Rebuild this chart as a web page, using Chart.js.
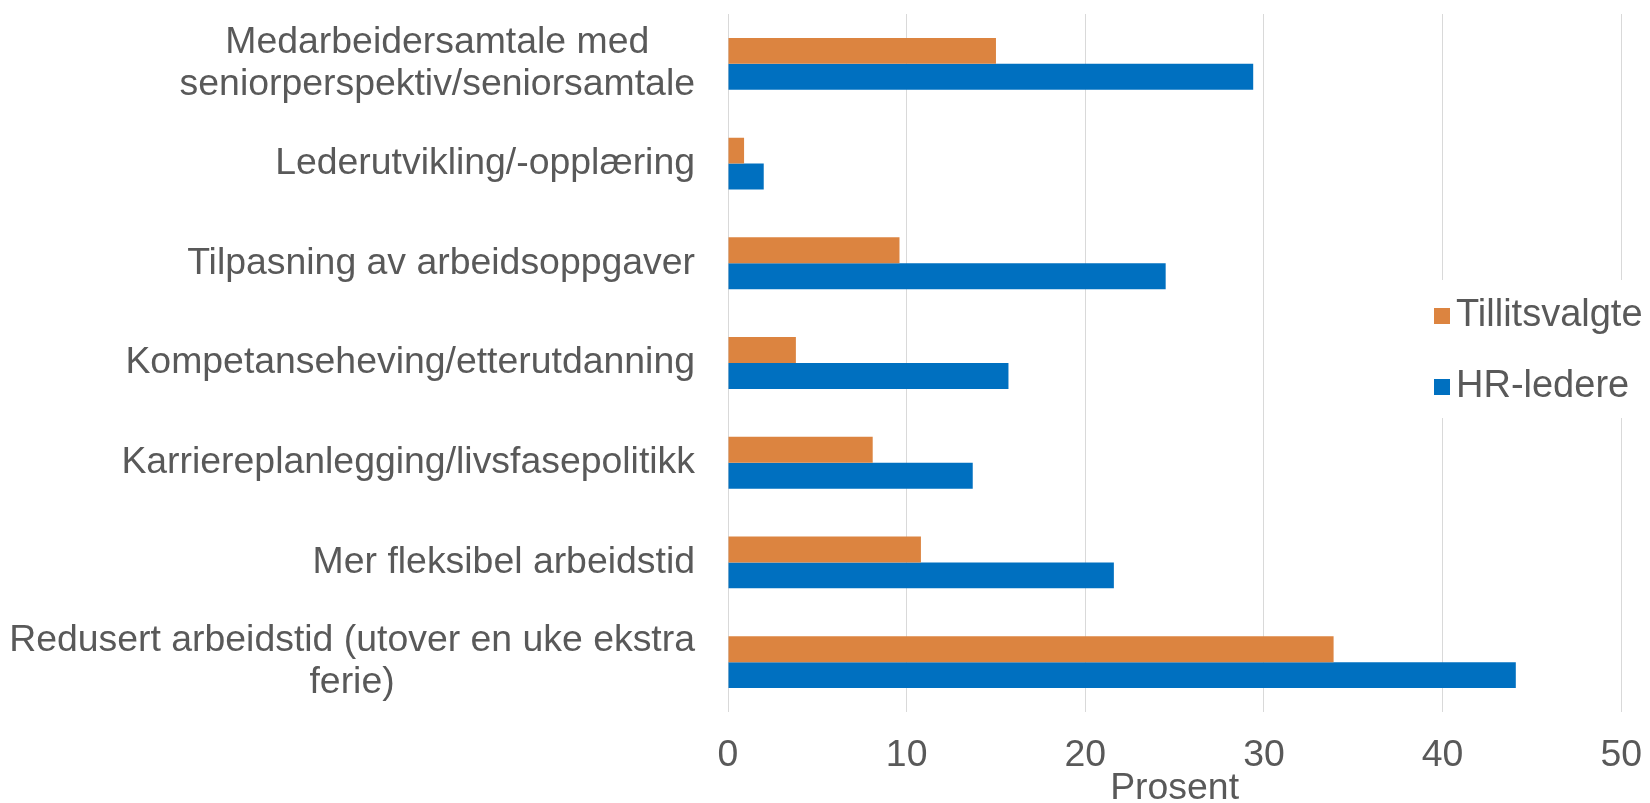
<!DOCTYPE html>
<html>
<head>
<meta charset="utf-8">
<script src="https://cdn.jsdelivr.net/npm/chart.js@4"></script>
<style>
  html, body { margin: 0; padding: 0; background: #ffffff; overflow: hidden; width: 1650px; height: 803px; }
  #wrap { width: 1663px; height: 803px; position: relative; }
</style>
</head>
<body>
<div id="wrap"><canvas id="c"></canvas></div>
<script>
const categories = [
  ["Medarbeidersamtale med", "seniorperspektiv/seniorsamtale"],
  "Lederutvikling/-opplæring",
  "Tilpasning av arbeidsoppgaver",
  "Kompetanseheving/etterutdanning",
  "Karriereplanlegging/livsfasepolitikk",
  "Mer fleksibel arbeidstid",
  ["Redusert arbeidstid (utover en uke ekstra", "ferie)"]
];
const seriesNames = ["Tillitsvalgte", "HR-ledere"];
const tillitsvalgte = [15.0, 0.9, 9.6, 3.8, 8.1, 10.8, 33.9];
const hrLedere = [29.4, 2.0, 24.5, 15.7, 13.7, 21.6, 44.1];
const xTicks = [0, 10, 20, 30, 40, 50];
const xTitle = "Prosent";

const TEXT = "#595959";
const FONT = "'Liberation Sans', Arial, sans-serif";
const FS = 37.4;

const yLabelPlugin = {
  id: 'yLabels',
  afterDraw(chart) {
    const ys = chart.scales.y;
    const ctx = chart.ctx;
    ctx.save();
    ctx.font = FS + "px " + FONT;
    ctx.fillStyle = TEXT;
    ctx.textAlign = "center";
    ctx.textBaseline = "middle";
    const right = chart.chartArea.left - 33;
    const lineGap = 42;
    categories.forEach((lab, i) => {
      const lines = Array.isArray(lab) ? lab : [lab];
      const w = Math.max(...lines.map(l => ctx.measureText(l).width));
      const cx = right - w / 2;
      const cy = ys.getPixelForTick(i);
      lines.forEach((l, j) => {
        ctx.fillText(l, cx, cy + (j - (lines.length - 1) / 2) * lineGap);
      });
    });
    ctx.restore();
  }
};

const legendPlugin = {
  id: 'overlayLegend',
  afterDraw(chart) {
    const ctx = chart.ctx;
    ctx.save();
    ctx.fillStyle = "#ffffff";
    ctx.fillRect(1420, 280, 243, 138);
    ctx.font = "38px " + FONT;
    ctx.textAlign = "left";
    ctx.textBaseline = "middle";
    const rows = [316, 387];
    chart.data.datasets.forEach((ds, i) => {
      const y = rows[i];
      ctx.fillStyle = ds.backgroundColor;
      ctx.fillRect(1434, y - 8, 16, 16);
      ctx.fillStyle = TEXT;
      ctx.fillText(ds.label, 1456, y);
    });
    ctx.restore();
  }
};

new Chart(document.getElementById('c'), {
  type: 'bar',
  data: {
    labels: categories,
    datasets: [
      { label: seriesNames[0], data: tillitsvalgte, backgroundColor: "#DC8440", borderWidth: 0 },
      { label: seriesNames[1], data: hrLedere, backgroundColor: "#0070C0", borderWidth: 0 }
    ]
  },
  options: {
    indexAxis: 'y',
    responsive: true,
    maintainAspectRatio: false,
    animation: false,
    events: [],
    layout: { padding: { left: 0, top: 14, right: 0, bottom: 0 } },
    datasets: { bar: { categoryPercentage: 0.52, barPercentage: 1.0 } },
    plugins: {
      legend: { display: false },
      tooltip: { enabled: false }
    },
    scales: {
      x: {
        min: 0, max: 50,
        afterBuildTicks(scale) { scale.ticks = xTicks.map(v => ({ value: v })); },
        afterFit(scale) { scale.height = 91; },
        grid: { color: "#D9D9D9", lineWidth: 1, drawTicks: false },
        border: { display: false },
        ticks: { color: TEXT, padding: 21, font: { family: FONT, size: FS, lineHeight: 1.2 }, maxRotation: 0 },
        title: { display: true, text: xTitle, color: TEXT, padding: 0, font: { family: FONT, size: FS, lineHeight: 0.75 } }
      },
      y: {
        afterFit(scale) { scale.width = 728; },
        grid: { display: false, drawTicks: false },
        border: { display: false },
        ticks: { display: false }
      }
    }
  },
  plugins: [yLabelPlugin, legendPlugin]
});
</script>
</body>
</html>
